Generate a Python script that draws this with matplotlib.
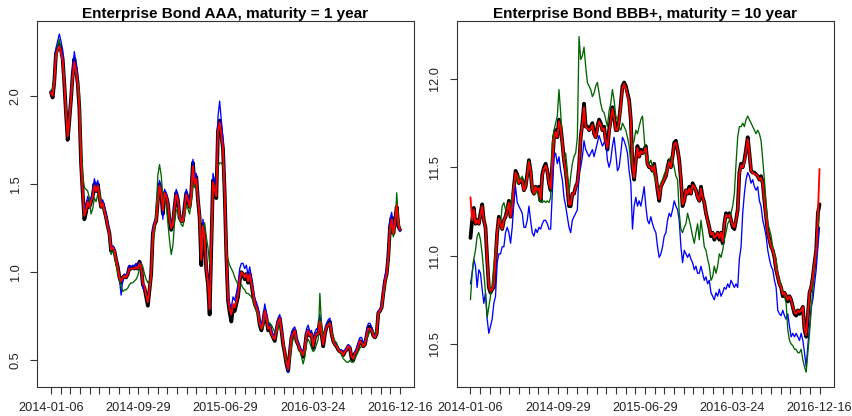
import numpy as np
import matplotlib
matplotlib.use("Agg")
import matplotlib.pyplot as plt

plt.rcParams["font.family"] = ["Liberation Sans", "DejaVu Sans"]

# ---- Enterprise Bond AAA, 1-year maturity ----
aaa_s1 = [2.02, 1.99, 2.08, 2.24, 2.27, 2.29, 2.26, 2.21, 2.07, 1.90, 1.75, 1.86, 1.98, 2.12, 2.21, 2.15, 2.07, 1.93, 1.62, 1.45,
          1.30, 1.34, 1.40, 1.37, 1.40, 1.43, 1.50, 1.46, 1.50, 1.43, 1.37, 1.39, 1.35, 1.31, 1.26, 1.22, 1.12, 1.14, 1.12, 1.07,
          1.03, 0.97, 0.94, 0.97, 0.98, 0.97, 0.99, 1.03, 1.02, 1.03, 1.02, 1.04, 1.02, 1.06, 1.03, 0.93, 0.91, 0.86, 0.81, 0.90,
          0.99, 1.22, 1.27, 1.29, 1.41,
          1.50, 1.45, 1.33, 1.45, 1.43, 1.39, 1.29, 1.24, 1.27, 1.37, 1.45, 1.41, 1.31, 1.29, 1.29, 1.37, 1.45, 1.41, 1.37, 1.45,
          1.62, 1.50, 1.54, 1.41, 1.31, 1.04, 1.27, 1.20, 1.01, 0.93, 0.76, 1.14, 1.52, 1.48, 1.42, 1.80, 1.86, 1.78, 1.70, 1.45,
          1.10, 0.84, 0.77, 0.72, 0.80, 0.78, 0.82, 0.86, 0.95, 1.00, 0.99, 0.96, 0.99, 0.94, 0.99, 0.94, 0.87, 0.82, 0.80, 0.77,
          0.70, 0.67, 0.71, 0.78, 0.74, 0.67, 0.69, 0.65, 0.63, 0.61, 0.67, 0.72,
          0.74, 0.67, 0.59, 0.54, 0.48, 0.44, 0.54, 0.63, 0.65, 0.67, 0.61, 0.59, 0.56, 0.55, 0.52, 0.57, 0.65, 0.67, 0.64, 0.65,
          0.57, 0.63, 0.65, 0.65, 0.73, 0.65, 0.58, 0.65, 0.69, 0.71, 0.72, 0.65, 0.61, 0.59, 0.58, 0.56, 0.55, 0.55, 0.53, 0.55,
          0.56, 0.58, 0.57, 0.51, 0.50, 0.54, 0.55, 0.58, 0.61, 0.60, 0.58, 0.59, 0.64, 0.69, 0.69, 0.67, 0.64, 0.63, 0.65, 0.77,
          0.78, 0.80, 0.88, 0.95, 0.99, 1.09, 1.26, 1.31, 1.22, 1.29, 1.37, 1.26, 1.24]
aaa_s2 = [2.02, 2.00, 2.08, 2.23, 2.26, 2.28, 2.25, 2.20, 2.07, 1.90, 1.77, 1.86, 1.98, 2.11, 2.19, 2.14, 2.07, 1.93, 1.62, 1.46,
          1.32, 1.35, 1.40, 1.37, 1.40, 1.43, 1.49, 1.46, 1.49, 1.43, 1.37, 1.39, 1.35, 1.31, 1.26, 1.22, 1.13, 1.14, 1.12, 1.07,
          1.03, 0.97, 0.95, 0.97, 0.98, 0.97, 0.99, 1.02, 1.02, 1.02, 1.02, 1.03, 1.02, 1.05, 1.03, 0.94, 0.92, 0.87, 0.83, 0.90,
          0.99, 1.21, 1.27, 1.29, 1.40,
          1.49, 1.45, 1.35, 1.45, 1.43, 1.39, 1.30, 1.25, 1.27, 1.37, 1.44, 1.41, 1.32, 1.29, 1.29, 1.36, 1.44, 1.41, 1.37, 1.44,
          1.60, 1.50, 1.53, 1.41, 1.32, 1.07, 1.26, 1.20, 1.02, 0.94, 0.79, 1.14, 1.51, 1.47, 1.43, 1.80, 1.85, 1.78, 1.70, 1.45,
          1.10, 0.85, 0.79, 0.76, 0.82, 0.80, 0.83, 0.87, 0.96, 1.00, 0.99, 0.97, 0.99, 0.95, 0.99, 0.94, 0.88, 0.83, 0.80, 0.77,
          0.71, 0.68, 0.71, 0.78, 0.74, 0.68, 0.69, 0.65, 0.63, 0.62, 0.67, 0.72,
          0.74, 0.67, 0.60, 0.54, 0.49, 0.45, 0.54, 0.63, 0.65, 0.67, 0.61, 0.59, 0.56, 0.55, 0.53, 0.57, 0.65, 0.67, 0.64, 0.65,
          0.58, 0.63, 0.65, 0.65, 0.72, 0.65, 0.59, 0.65, 0.69, 0.70, 0.71, 0.65, 0.61, 0.59, 0.58, 0.56, 0.55, 0.55, 0.53, 0.55,
          0.56, 0.58, 0.57, 0.52, 0.51, 0.54, 0.55, 0.58, 0.61, 0.60, 0.58, 0.59, 0.64, 0.68, 0.68, 0.67, 0.64, 0.63, 0.65, 0.77,
          0.78, 0.80, 0.88, 0.95, 0.99, 1.09, 1.25, 1.30, 1.22, 1.28, 1.38, 1.27, 1.24]
aaa_s3 = [2.03, 2.00, 2.10, 2.27, 2.31, 2.35, 2.31, 2.26, 2.10, 1.92, 1.77, 1.88, 2.01, 2.16, 2.25, 2.18, 2.10, 1.95, 1.64, 1.47,
          1.33, 1.38, 1.43, 1.40, 1.42, 1.46, 1.53, 1.49, 1.52, 1.45, 1.39, 1.41, 1.37, 1.33, 1.28, 1.23, 1.14, 1.15, 1.13, 1.08,
          1.04, 0.96, 0.87, 0.96, 0.99, 0.98, 1.00, 1.04, 1.03, 1.04, 1.03, 1.05, 1.03, 1.06, 1.02, 0.91, 0.90, 0.87, 0.83, 0.91,
          1.00, 1.24, 1.29, 1.31, 1.44,
          1.52, 1.47, 1.30, 1.47, 1.45, 1.41, 1.31, 1.26, 1.29, 1.39, 1.47, 1.43, 1.33, 1.30, 1.30, 1.39, 1.47, 1.43, 1.39, 1.47,
          1.64, 1.53, 1.56, 1.43, 1.33, 1.08, 1.30, 1.23, 1.04, 0.96, 0.79, 1.17, 1.56, 1.52, 1.46, 1.88, 1.97, 1.86, 1.76, 1.50,
          1.13, 0.87, 0.82, 0.80, 0.86, 0.84, 0.88, 0.93, 1.02, 1.05, 1.05, 1.02, 1.04, 0.98, 1.03, 0.97, 0.90, 0.85, 0.83, 0.80,
          0.73, 0.70, 0.74, 0.82, 0.77, 0.70, 0.71, 0.67, 0.65, 0.63, 0.69, 0.74,
          0.76, 0.69, 0.61, 0.55, 0.48, 0.43, 0.56, 0.66, 0.68, 0.69, 0.63, 0.61, 0.58, 0.56, 0.53, 0.59, 0.68, 0.70, 0.66, 0.67,
          0.59, 0.66, 0.68, 0.67, 0.76, 0.67, 0.60, 0.67, 0.71, 0.73, 0.74, 0.67, 0.62, 0.60, 0.59, 0.57, 0.56, 0.56, 0.54, 0.56,
          0.57, 0.59, 0.58, 0.52, 0.51, 0.55, 0.57, 0.60, 0.63, 0.63, 0.60, 0.61, 0.66, 0.71, 0.71, 0.69, 0.66, 0.64, 0.66, 0.78,
          0.79, 0.82, 0.90, 0.98, 1.02, 1.12, 1.30, 1.34, 1.25, 1.30, 1.36, 1.25, 1.23]
aaa_s4 = [2.03, 2.04, 2.09, 2.22, 2.28, 2.32, 2.25, 2.20, 2.10, 1.92, 1.80, 1.88, 1.98, 2.10, 2.16, 2.12, 2.08, 2.02, 1.72, 1.55,
          1.48, 1.47, 1.46, 1.42, 1.33, 1.36, 1.42, 1.40, 1.44, 1.46, 1.40, 1.36, 1.34, 1.30, 1.26, 1.20, 1.10, 1.12, 1.10, 1.04,
          1.00, 0.96, 0.92, 0.89, 0.90, 0.90, 0.91, 0.93, 0.94, 0.94, 0.95, 0.96, 0.98, 1.02, 1.05, 1.03, 0.99, 0.96, 0.94, 0.95,
          0.98, 1.17, 1.22, 1.35, 1.55,
          1.61, 1.55, 1.42, 1.42, 1.38, 1.28, 1.18, 1.10, 1.15, 1.28, 1.35, 1.36, 1.30, 1.27, 1.26, 1.32, 1.38, 1.36, 1.33, 1.40,
          1.50, 1.48, 1.50, 1.40, 1.32, 1.22, 1.25, 1.28, 1.20, 1.14, 1.05, 1.12, 1.45, 1.48, 1.50, 1.60, 1.62, 1.62, 1.60, 1.45,
          1.12, 1.07, 1.04, 1.02, 1.00, 0.97, 0.95, 0.93, 0.92, 0.93, 0.91, 0.90, 0.88, 0.88, 0.87, 0.86, 0.84, 0.80, 0.78, 0.75,
          0.70, 0.68, 0.69, 0.74, 0.73, 0.72, 0.71, 0.70, 0.68, 0.66, 0.66, 0.68,
          0.72, 0.66, 0.60, 0.54, 0.51, 0.47, 0.50, 0.58, 0.62, 0.64, 0.62, 0.60, 0.56, 0.52, 0.48, 0.52, 0.60, 0.62, 0.60, 0.57,
          0.55, 0.56, 0.59, 0.62, 0.88, 0.70, 0.64, 0.66, 0.69, 0.71, 0.71, 0.67, 0.63, 0.61, 0.60, 0.57, 0.55, 0.53, 0.51, 0.50,
          0.49, 0.49, 0.50, 0.49, 0.49, 0.51, 0.53, 0.55, 0.57, 0.58, 0.59, 0.60, 0.62, 0.64, 0.67, 0.67, 0.66, 0.65, 0.68, 0.76,
          0.78, 0.80, 0.86, 0.93, 0.98, 1.06, 1.20, 1.26, 1.20, 1.25, 1.45, 1.30, 1.25]

# ---- Enterprise Bond BBB+, 10-year maturity ----
bbb_s1 = [11.10, 11.20, 11.27, 11.18, 11.20, 11.18, 11.24, 11.29, 11.20, 11.16, 10.98, 10.82, 10.79, 10.81, 10.82, 10.98, 11.13, 11.22, 11.18, 11.15,
          11.20, 11.22, 11.26, 11.31, 11.22, 11.28, 11.39, 11.48, 11.46, 11.41, 11.43, 11.43, 11.37, 11.39, 11.46, 11.54, 11.48, 11.37, 11.35, 11.39,
          11.37, 11.39, 11.31, 11.46, 11.50, 11.52, 11.48, 11.41, 11.37, 11.52, 11.67, 11.71, 11.67, 11.77, 11.73, 11.64, 11.54, 11.48, 11.39, 11.28,
          11.28, 11.35, 11.35, 11.39, 11.41, 11.50,
          11.67, 11.75, 11.86, 11.73, 11.73, 11.71, 11.73, 11.75, 11.69, 11.67, 11.73, 11.77, 11.75, 11.71, 11.73, 11.65, 11.60, 11.71, 11.77, 11.84,
          11.79, 11.71, 11.71, 11.77, 11.86, 11.96, 11.98, 11.96, 11.92, 11.88, 11.77, 11.50, 11.43, 11.54, 11.62, 11.56, 11.60, 11.58, 11.60, 11.62,
          11.52, 11.50, 11.50, 11.48, 11.52, 11.45, 11.37, 11.31, 11.39, 11.41, 11.43, 11.45, 11.50, 11.54, 11.50, 11.56, 11.64, 11.65, 11.60, 11.54,
          11.43, 11.28, 11.31, 11.37, 11.35, 11.39, 11.35, 11.41, 11.39, 11.37, 11.33, 11.31,
          11.39, 11.33, 11.30, 11.24, 11.20, 11.16, 11.11, 11.13, 11.09, 11.11, 11.13, 11.09, 11.13, 11.07, 11.18, 11.24, 11.22, 11.24, 11.20, 11.16,
          11.15, 11.20, 11.26, 11.47, 11.52, 11.50, 11.54, 11.60, 11.67, 11.58, 11.48, 11.47, 11.47, 11.46, 11.45, 11.43, 11.45, 11.41, 11.31, 11.22,
          11.13, 11.09, 11.05, 11.03, 10.99, 10.92, 10.88, 10.84, 10.82, 10.77, 10.79, 10.77, 10.74, 10.77, 10.75, 10.71, 10.67, 10.66, 10.69, 10.67,
          10.69, 10.71, 10.58, 10.54, 10.66, 10.79, 10.82, 10.88, 10.96, 11.03, 11.24, 11.29]
bbb_s2 = [11.33, 11.20, 11.26, 11.18, 11.20, 11.18, 11.23, 11.28, 11.20, 11.16, 10.98, 10.83, 10.80, 10.81, 10.83, 10.98, 11.13, 11.21, 11.18, 11.15,
          11.20, 11.22, 11.25, 11.30, 11.22, 11.28, 11.39, 11.47, 11.45, 11.41, 11.43, 11.42, 11.37, 11.39, 11.45, 11.53, 11.48, 11.38, 11.35, 11.39,
          11.37, 11.38, 11.32, 11.45, 11.49, 11.51, 11.48, 11.41, 11.38, 11.52, 11.66, 11.70, 11.67, 11.76, 11.72, 11.64, 11.54, 11.48, 11.39, 11.29,
          11.29, 11.35, 11.35, 11.39, 11.41, 11.50,
          11.67, 11.74, 11.84, 11.73, 11.72, 11.71, 11.72, 11.74, 11.69, 11.67, 11.72, 11.76, 11.74, 11.71, 11.72, 11.65, 11.61, 11.70, 11.76, 11.83,
          11.78, 11.71, 11.71, 11.76, 11.85, 11.95, 11.97, 11.95, 11.91, 11.87, 11.77, 11.51, 11.44, 11.54, 11.61, 11.56, 11.59, 11.58, 11.59, 11.61,
          11.52, 11.50, 11.50, 11.48, 11.51, 11.45, 11.38, 11.32, 11.39, 11.41, 11.43, 11.45, 11.49, 11.53, 11.50, 11.56, 11.63, 11.64, 11.60, 11.54,
          11.43, 11.29, 11.31, 11.37, 11.35, 11.38, 11.35, 11.40, 11.39, 11.37, 11.33, 11.31,
          11.38, 11.33, 11.30, 11.24, 11.20, 11.16, 11.12, 11.13, 11.10, 11.11, 11.13, 11.10, 11.13, 11.08, 11.18, 11.23, 11.22, 11.23, 11.20, 11.17,
          11.16, 11.20, 11.26, 11.46, 11.51, 11.50, 11.53, 11.59, 11.66, 11.58, 11.48, 11.47, 11.46, 11.46, 11.45, 11.43, 11.44, 11.41, 11.31, 11.22,
          11.13, 11.09, 11.05, 11.03, 10.99, 10.92, 10.88, 10.84, 10.82, 10.78, 10.79, 10.77, 10.75, 10.77, 10.75, 10.71, 10.68, 10.67, 10.69, 10.68,
          10.69, 10.71, 10.59, 10.55, 10.66, 10.79, 10.82, 10.88, 10.96, 11.03, 11.23, 11.49]
bbb_s3 = [10.84, 10.90, 10.98, 10.94, 10.82, 10.92, 10.90, 10.81, 10.73, 10.79, 10.64, 10.56, 10.60, 10.64, 10.73, 10.77, 10.96, 11.01, 11.01, 11.05,
          11.05, 11.13, 11.16, 11.13, 11.07, 11.16, 11.30, 11.39, 11.30, 11.28, 11.26, 11.24, 11.16, 11.16, 11.20, 11.28, 11.20, 11.13, 11.11, 11.15,
          11.13, 11.16, 11.15, 11.18, 11.20, 11.20, 11.18, 11.15, 11.15, 11.35, 11.56, 11.58, 11.52, 11.56, 11.48, 11.43, 11.33, 11.28, 11.22, 11.16,
          11.13, 11.20, 11.22, 11.24, 11.26, 11.47,
          11.50, 11.56, 11.65, 11.60, 11.58, 11.56, 11.58, 11.60, 11.56, 11.60, 11.64, 11.68, 11.65, 11.62, 11.64, 11.65, 11.54, 11.50, 11.54, 11.62,
          11.67, 11.58, 11.48, 11.50, 11.58, 11.67, 11.65, 11.62, 11.58, 11.48, 11.41, 11.15, 11.28, 11.33, 11.28, 11.31, 11.28, 11.33, 11.39, 11.28,
          11.20, 11.18, 11.22, 11.18, 11.15, 11.13, 11.05, 10.99, 11.01, 11.05, 11.11, 11.13, 11.20, 11.24, 11.22, 11.26, 11.31, 11.28, 11.26, 11.20,
          11.05, 10.96, 11.03, 11.01, 10.99, 11.01, 10.98, 10.96, 10.92, 10.94, 10.90, 10.90,
          10.94, 10.90, 10.86, 10.88, 10.84, 10.86, 10.79, 10.77, 10.75, 10.79, 10.77, 10.81, 10.77, 10.79, 10.82, 10.81, 10.84, 10.82, 10.86, 10.84,
          10.82, 10.84, 10.82, 10.98, 11.05, 11.24, 11.35, 11.43, 11.47, 11.45, 11.41, 11.43, 11.39, 11.37, 11.39, 11.31, 11.28, 11.20, 11.16, 11.11,
          11.03, 10.98, 10.94, 10.92, 10.86, 10.82, 10.69, 10.67, 10.66, 10.69, 10.66, 10.64, 10.67, 10.60, 10.54, 10.56, 10.54, 10.56, 10.54, 10.52,
          10.56, 10.52, 10.45, 10.37, 10.49, 10.60, 10.71, 10.75, 10.84, 10.92, 11.05, 11.16]
bbb_s4 = [10.75, 10.90, 10.98, 11.03, 11.11, 11.13, 11.09, 11.01, 10.90, 10.79, 10.65, 10.71, 10.77, 10.84, 10.94, 11.03, 11.13, 11.20, 11.18, 11.28,
          11.30, 11.26, 11.28, 11.28, 11.28, 11.35, 11.39, 11.45, 11.41, 11.45, 11.43, 11.45, 11.41, 11.39, 11.45, 11.54, 11.46, 11.37, 11.39, 11.35,
          11.37, 11.31, 11.31, 11.30, 11.31, 11.30, 11.31, 11.30, 11.33, 11.64, 11.71, 11.75, 11.79, 11.94, 11.81, 11.62, 11.54, 11.58, 11.48, 11.35,
          11.45, 11.52, 11.56, 11.58, 11.67, 12.24,
          12.11, 12.13, 12.18, 12.07, 11.98, 11.96, 11.94, 11.90, 11.92, 11.96, 11.98, 11.92, 11.86, 11.82, 11.81, 11.77, 11.73, 11.82, 11.86, 11.94,
          11.88, 11.79, 11.77, 11.73, 11.71, 11.75, 11.73, 11.71, 11.67, 11.62, 11.52, 11.62, 11.65, 11.71, 11.69, 11.73, 11.77, 11.79, 11.67, 11.54,
          11.56, 11.52, 11.54, 11.50, 11.45, 11.41, 11.39, 11.37, 11.41, 11.43, 11.46, 11.48, 11.50, 11.54, 11.56, 11.54, 11.50, 11.45, 11.43, 11.24,
          11.15, 11.13, 11.16, 11.18, 11.24, 11.20, 11.16, 11.11, 11.07, 11.13, 11.18, 11.09,
          11.20, 11.13, 11.05, 11.03, 10.98, 10.94, 10.86, 10.88, 10.94, 10.90, 10.94, 11.01, 10.99, 11.03, 11.09, 11.13, 11.18, 11.20, 11.24, 11.28,
          11.35, 11.52, 11.67, 11.73, 11.73, 11.75, 11.73, 11.77, 11.79, 11.77, 11.75, 11.73, 11.71, 11.69, 11.71, 11.69, 11.65, 11.54, 11.43, 11.30,
          11.18, 11.15, 11.11, 11.05, 11.01, 10.98, 10.90, 10.86, 10.84, 10.79, 10.77, 10.73, 10.58, 10.52, 10.50, 10.49, 10.47, 10.47, 10.45, 10.45,
          10.47, 10.41, 10.37, 10.34, 10.45, 10.56, 10.69, 10.82, 10.92, 11.01, 11.16, 11.24]

date_labels = ["2014-01-06", "2014-09-29", "2015-06-29", "2016-03-24", "2016-12-16"]
n_ticks = 37
label_every = 9

panels = [
    ("Enterprise Bond AAA, maturity = 1 year", [aaa_s1, aaa_s3, aaa_s4, aaa_s2],
     (0.352, 2.424), [0.5, 1.0, 1.5, 2.0]),
    ("Enterprise Bond BBB+, maturity = 10 year", [bbb_s1, bbb_s3, bbb_s4, bbb_s2],
     (10.259, 12.328), [10.5, 11.0, 11.5, 12.0]),
]
# drawing order: black (wide), blue, dark green, red on top
styles = [dict(color="black", lw=2.7), dict(color="#0000ff", lw=0.95),
          dict(color="#006400", lw=0.95), dict(color="#ff0000", lw=1.35)]

W, H = 852, 416
fig = plt.figure(figsize=(W / 100, H / 100), dpi=100)
lefts = [37, 456.5]
for (title, series, ylim, yticks), left in zip(panels, lefts):
    ax = fig.add_axes([left / W, 1 - 386.5 / H, 377 / W, 365.5 / H])
    n = len(series[0])
    x = np.arange(n)
    for s, st in zip(series, styles):
        ax.plot(x, s, solid_joinstyle="round", solid_capstyle="round", **st)
    ax.set_xlim(-(n - 1) * 0.04, (n - 1) * 1.04)
    ax.set_ylim(*ylim)
    tick_pos = np.linspace(0, n - 1, n_ticks)
    labels = [""] * n_ticks
    for i, lab in enumerate(date_labels):
        labels[i * label_every] = lab
    ax.set_xticks(tick_pos)
    ax.set_xticklabels(labels)
    ax.set_yticks(yticks)
    ax.set_yticklabels([f"{v:.1f}" for v in yticks], rotation=90, va="center")
    ax.tick_params(axis="both", direction="out", length=5, width=0.8,
                   color="#333333", labelsize=9.2, labelcolor="#222222")
    ax.tick_params(axis="x", pad=6)
    ax.tick_params(axis="y", pad=6)
    for sp in ax.spines.values():
        sp.set_color("#333333")
        sp.set_linewidth(0.8)
    ax.set_title(title, fontsize=11, fontweight="bold", pad=2)

fig.savefig("out.png", dpi=100)
